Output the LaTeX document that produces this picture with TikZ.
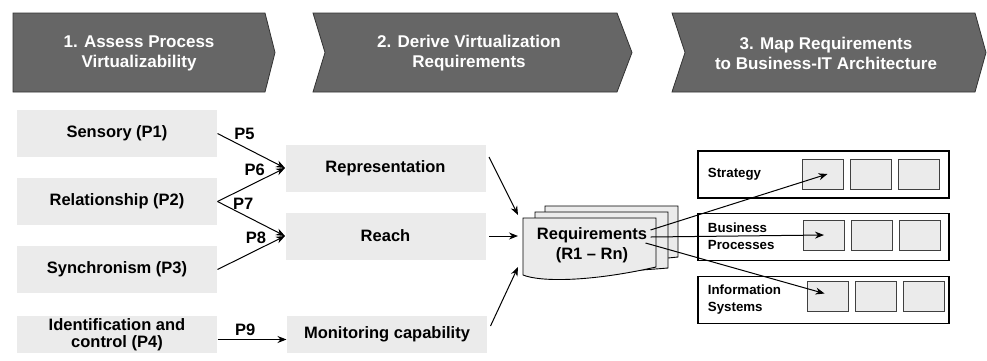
\documentclass[tikz,border=0pt]{standalone}
\usepackage{fontspec}
\setmainfont{Liberation Sans}
\usetikzlibrary{arrows.meta,positioning}
\definecolor{phasegray}{HTML}{666666}
\definecolor{boxgray}{HTML}{EBEBEB}
\tikzstyle{Phase} = [draw=black!80, fill=phasegray, line width=0.8pt]
\tikzstyle{PhaseText} = [text=white, align=center, inner sep=0pt, font=\fontsize{17}{20}\selectfont\bfseries]
\tikzstyle{Block} = [fill=boxgray, minimum width=200pt, minimum height=47pt, inner sep=0pt, align=center, font=\fontsize{16.5}{17}\selectfont\bfseries]
\tikzstyle{Label} = [inner sep=0pt, font=\fontsize{16.5}{20}\selectfont\bfseries]
\tikzstyle{Doc} = [draw, fill=boxgray, line width=0.9pt]
\tikzstyle{Layer} = [draw, line width=1.2pt, minimum width=251pt, minimum height=47pt]
\tikzstyle{LayerText} = [anchor=west, align=left, inner sep=0pt, font=\fontsize{13.3}{17}\selectfont\bfseries]
\tikzstyle{Cell} = [draw=black!75, fill=boxgray, line width=1pt, minimum width=41pt, minimum height=30pt]

\begin{document}
\begin{tikzpicture}[x=1pt, y=-1pt, line width=1pt, >={Stealth[length=9pt,width=7pt]}]
    \useasboundingbox (0,0) rectangle (987,360);

    % phases
    \draw[Phase] (13,13) -- (265,13) -- (275,52.5) -- (265,92) -- (13,92) -- cycle;
    \draw[Phase] (313,13) -- (617,13) -- (632,52.5) -- (617,92) -- (313,92) -- (325,52.5) -- cycle;
    \draw[Phase] (672,13) -- (975,13) -- (986,52.5) -- (975,92) -- (672,92) -- (685,52.5) -- cycle;
    \node[PhaseText] (h_assess) at (139,53)  {1. Assess Process\\Virtualizability};
    \node[PhaseText] (h_derive) at (469,53)  {2. Derive Virtualization\\Requirements};
    \node[PhaseText] (h_map)    at (826,53)  {3. Map Requirements\\to Business-IT Architecture};

    % process properties
    \node[Block] (p_sensory)        at (117,133.5)                  {Sensory (P1)};
    \node[Block] (p_relationship)   [below=20pt of p_sensory]       {Relationship (P2)};
    \node[Block] (p_synchronism)    [below=20pt of p_relationship]  {Synchronism (P3)};
    \node[Block, minimum height=37pt] (p_identification) [below=22pt of p_synchronism] {Identification and\\control (P4)};

    % virtualization mechanisms
    \node[Block] (d_representation) at (385.5,168)                  {Representation};
    \node[Block] (d_reach)          [below=20pt of d_representation] {Reach};
    \node[Block, minimum height=37pt] (d_monitoring) [right=69pt of p_identification] {Monitoring capability};

    \draw[->] (p_sensory.east)      -- node[Label, pos=0.4,  above=7pt] {P5} (d_representation.west);
    \draw[->] (p_relationship.east) -- node[Label, pos=0.55, above=7pt] {P6} (d_representation.west);
    \draw[->] (p_relationship.east) -- node[Label, pos=0.38, above=5pt] {P7} (d_reach.west);
    \draw[->] (p_synchronism.east)  -- node[Label, pos=0.57, above=6pt] {P8} (d_reach.west);
    \draw[->] ([yshift=-5pt]p_identification.east) -- node[Label, pos=0.4, above=3pt] {P9} ([yshift=-5pt]d_monitoring.west);

    % requirements
    \draw[Doc] (545,206) -- (678,206) -- (678,257) .. controls (630,262) and (580,264) .. (545,262) -- cycle;
    \draw[Doc] (535,212) -- (668,212) -- (668,268) .. controls (620,272) and (570,274) .. (535,270) -- cycle;
    \draw[Doc] (523,218) -- (656,218) -- (656,267) .. controls (590,282) and (540,282) .. (523,275) -- cycle;
    \node[Label, align=center] (r_req) at (592,245) {Requirements\\(R1 – Rn)};

    \draw[->] ([xshift=3pt,yshift=11pt]d_representation.east) -- (518,215);
    \draw[->] ([xshift=3pt]d_reach.east) -- ([xshift=-5pt]d_reach.east -| 523,0);
    \draw[->] ([xshift=3pt,yshift=8.5pt]d_monitoring.east) -- (518,267);

    % business-IT architecture
    \node[Layer] (a_strategy)  at (823.5,174.5)               {};
    \node[Layer] (a_processes) [below=14pt of a_strategy]     {};
    \node[Layer] (a_systems)   [below=15pt of a_processes]    {};
    \node[LayerText] (t_strategy)  at ([xshift=10pt]a_strategy.west)  {Strategy};
    \node[LayerText] (t_processes) at ([xshift=10pt]a_processes.west) {Business\\Processes};
    \node[LayerText] (t_systems)   at ([xshift=10pt]a_systems.west)   {Information\\Systems};

    \node[Cell] (s_one)   at (822.5,174)          {};
    \node[Cell] (s_two)   [right=6pt of s_one]    {};
    \node[Cell] (s_three) [right=6pt of s_two]    {};
    \node[Cell] (b_one)   at (824,235)            {};
    \node[Cell] (b_two)   [right=6pt of b_one]    {};
    \node[Cell] (b_three) [right=6pt of b_two]    {};
    \node[Cell] (i_one)   at (827.5,296.5)        {};
    \node[Cell] (i_two)   [right=6pt of i_one]    {};
    \node[Cell] (i_three) [right=6pt of i_two]    {};

    \draw[->] ([xshift=3pt,yshift=15pt]r_req.east) -- ([xshift=5pt]s_one.center);
    \draw[->] ([xshift=3pt,yshift=8pt]r_req.east)  -- (b_one.center);
    \draw[->] ([xshift=-2pt,yshift=2pt]r_req.east) -- ([xshift=-3pt,yshift=3pt]i_one.center);
\end{tikzpicture}
\end{document}
